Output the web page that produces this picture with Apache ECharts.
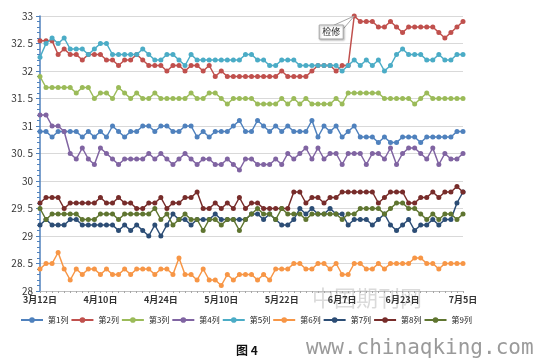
<!DOCTYPE html>
<html>
<head>
<meta charset="utf-8">
<script src="https://cdn.jsdelivr.net/npm/echarts@6/dist/echarts.min.js"></script>
<style>
  html, body { margin: 0; padding: 0; background: #ffffff; }
  #chart { width: 539px; height: 362px; }
</style>
</head>
<body>
<div id="chart"></div>
<script>
// ---- data ----
const tickLabels = ['3月12日', '4月10日', '4月24日', '5月10日', '5月22日', '6月7日', '6月23日', '7月5日'];
const seriesNames = ['第1列', '第2列', '第3列', '第4列', '第5列', '第6列', '第7列', '第8列', '第9列'];

const s1 = [30.9,30.9,30.8,30.9,30.9,30.9,30.9,30.8,30.9,30.8,30.9,30.8,31.0,30.9,30.8,30.9,30.9,31.0,31.0,30.9,31.0,31.0,30.9,30.9,31.0,31.0,30.8,30.9,30.8,30.9,30.9,30.9,31.0,31.1,30.9,30.9,31.1,31.0,30.9,31.0,30.9,31.0,30.9,30.9,30.9,31.1,30.8,31.0,30.9,31.0,30.8,30.9,31.0,30.8,30.8,30.8,30.7,30.8,30.7,30.7,30.8,30.8,30.8,30.7,30.8,30.8,30.8,30.8,30.8,30.9,30.9];
const s2 = [32.55,32.55,32.55,32.3,32.4,32.3,32.3,32.2,32.3,32.3,32.3,32.2,32.2,32.1,32.2,32.2,32.3,32.2,32.1,32.1,32.1,32.0,32.1,32.1,32.0,32.1,32.1,32.0,32.1,31.9,32.0,31.9,31.9,31.9,31.9,31.9,31.9,31.9,31.9,31.9,32.0,31.9,31.9,31.9,31.9,32.0,32.1,32.1,32.1,32.0,32.1,32.1,33.0,32.9,32.9,32.9,32.8,32.8,32.9,32.8,32.7,32.8,32.8,32.8,32.8,32.8,32.7,32.6,32.7,32.8,32.9];
const s3 = [31.9,31.7,31.7,31.7,31.7,31.7,31.6,31.7,31.7,31.5,31.6,31.6,31.5,31.7,31.6,31.5,31.6,31.5,31.5,31.6,31.5,31.5,31.5,31.5,31.5,31.6,31.5,31.5,31.6,31.6,31.5,31.4,31.5,31.5,31.5,31.5,31.4,31.4,31.4,31.4,31.5,31.4,31.5,31.4,31.5,31.4,31.4,31.4,31.4,31.5,31.4,31.6,31.6,31.6,31.6,31.6,31.6,31.5,31.5,31.5,31.5,31.5,31.4,31.5,31.6,31.5,31.5,31.5,31.5,31.5,31.5];
const s4 = [31.2,31.2,31.0,31.0,30.9,30.5,30.4,30.6,30.4,30.3,30.6,30.5,30.4,30.3,30.4,30.4,30.4,30.4,30.5,30.4,30.5,30.4,30.3,30.4,30.5,30.4,30.3,30.4,30.4,30.3,30.3,30.4,30.3,30.2,30.4,30.4,30.3,30.3,30.3,30.4,30.3,30.5,30.4,30.5,30.6,30.4,30.6,30.4,30.5,30.5,30.3,30.5,30.5,30.5,30.3,30.5,30.5,30.4,30.6,30.3,30.5,30.6,30.6,30.5,30.4,30.6,30.3,30.5,30.4,30.4,30.5];
const s5 = [32.25,32.5,32.6,32.5,32.6,32.4,32.4,32.4,32.3,32.4,32.5,32.5,32.3,32.3,32.3,32.3,32.3,32.4,32.3,32.2,32.2,32.3,32.3,32.2,32.1,32.3,32.2,32.2,32.2,32.2,32.2,32.2,32.2,32.2,32.3,32.3,32.2,32.2,32.1,32.1,32.2,32.2,32.2,32.1,32.1,32.1,32.1,32.1,32.1,32.1,32.0,32.1,32.2,32.1,32.2,32.1,32.2,32.0,32.1,32.3,32.4,32.3,32.3,32.3,32.2,32.2,32.3,32.2,32.2,32.3,32.3];
const s6 = [28.4,28.5,28.5,28.7,28.4,28.2,28.4,28.3,28.4,28.4,28.3,28.4,28.3,28.3,28.4,28.3,28.4,28.4,28.4,28.3,28.4,28.4,28.3,28.6,28.3,28.3,28.2,28.4,28.2,28.2,28.1,28.3,28.2,28.3,28.3,28.3,28.2,28.3,28.2,28.4,28.4,28.4,28.5,28.5,28.4,28.4,28.5,28.5,28.4,28.5,28.3,28.3,28.5,28.5,28.4,28.4,28.5,28.4,28.5,28.5,28.5,28.5,28.6,28.6,28.5,28.5,28.4,28.5,28.5,28.5,28.5];
const s7 = [29.2,29.3,29.2,29.2,29.2,29.3,29.3,29.2,29.2,29.2,29.2,29.2,29.2,29.1,29.2,29.1,29.2,29.1,29.0,29.2,29.0,29.2,29.4,29.3,29.3,29.2,29.3,29.3,29.3,29.4,29.3,29.3,29.3,29.3,29.3,29.4,29.4,29.3,29.4,29.3,29.2,29.2,29.3,29.5,29.4,29.5,29.4,29.4,29.5,29.4,29.4,29.2,29.3,29.3,29.3,29.2,29.3,29.4,29.2,29.1,29.2,29.3,29.1,29.2,29.2,29.3,29.2,29.3,29.3,29.6,29.8];
const s8 = [29.6,29.7,29.7,29.7,29.5,29.6,29.6,29.6,29.6,29.6,29.7,29.6,29.6,29.7,29.6,29.6,29.5,29.5,29.6,29.6,29.7,29.5,29.6,29.6,29.7,29.7,29.8,29.5,29.5,29.6,29.5,29.6,29.5,29.7,29.5,29.6,29.6,29.5,29.5,29.5,29.5,29.5,29.8,29.8,29.6,29.7,29.7,29.6,29.7,29.7,29.8,29.8,29.8,29.8,29.8,29.8,29.6,29.7,29.8,29.8,29.8,29.6,29.6,29.7,29.7,29.8,29.7,29.8,29.8,29.9,29.8];
const s9 = [29.5,29.3,29.4,29.4,29.4,29.4,29.4,29.3,29.3,29.3,29.4,29.4,29.4,29.3,29.4,29.4,29.4,29.4,29.4,29.5,29.3,29.4,29.2,29.3,29.4,29.3,29.3,29.1,29.3,29.3,29.2,29.3,29.3,29.1,29.3,29.4,29.5,29.4,29.4,29.3,29.5,29.4,29.4,29.4,29.3,29.4,29.4,29.4,29.4,29.4,29.3,29.4,29.4,29.5,29.5,29.5,29.5,29.4,29.5,29.6,29.6,29.5,29.5,29.4,29.3,29.4,29.3,29.4,29.4,29.3,29.4];

const seriesValues = [s1, s2, s3, s4, s5, s6, s7, s8, s9];
const colors = ['#4F81BD', '#C0504D', '#9BBB59', '#8064A2', '#4BACC6', '#F79646', '#2C4D75', '#772C2A', '#5F7530'];

// callout annotation
const calloutText = '检修';
const calloutSeries = 1;
const calloutIndex = 52;
const captionText = '图 4';

const categories = s1.map((_, i) => String(i + 1));
const labelStep = 10;

const chart = echarts.init(document.getElementById('chart'), null, { renderer: 'canvas' });

const staticGraphics = [
  {
    id: 'caption',
    type: 'text',
    left: 236,
    top: 344,
    style: { text: captionText, font: 'bold 12px "Noto Sans CJK SC"', fill: '#111' }
  },
  {
    id: 'wm1',
    type: 'text',
    left: 312,
    top: 287,
    silent: true,
    style: { text: '中国期刊网', font: '22px "Noto Sans CJK SC"', fill: 'rgba(150,150,150,0.35)' }
  },
  {
    id: 'wm2',
    type: 'text',
    left: 306,
    top: 338,
    silent: true,
    style: { text: 'www.chinaqking.com', font: '21px "DejaVu Sans Mono"', fill: 'rgba(120,120,120,0.75)' }
  }
];

const option = {
  animation: false,
  backgroundColor: '#ffffff',
  color: colors,
  grid: { left: 40, right: 76, top: 16, bottom: 71 },
  legend: {
    data: seriesNames,
    left: 20,
    top: 316,
    padding: 0,
    itemWidth: 22,
    itemHeight: 7,
    itemGap: 2,
    textStyle: { fontSize: 8, color: '#222', fontFamily: 'Noto Sans CJK SC' }
  },
  xAxis: {
    type: 'category',
    data: categories,
    boundaryGap: false,
    axisLine: { lineStyle: { color: '#BFBFBF', width: 1 } },
    axisTick: { show: true, interval: 0, length: 2, lineStyle: { color: '#A6A6A6' } },
    axisLabel: {
      interval: labelStep - 1,
      margin: 4,
      fontSize: 9,
      fontWeight: 'bold',
      color: '#333',
      fontFamily: 'Noto Sans CJK SC',
      formatter: (v, idx) => tickLabels[Math.round(idx / labelStep)] || ''
    },
    splitLine: { show: false }
  },
  yAxis: {
    type: 'value',
    min: 28,
    max: 33,
    interval: 0.5,
    axisLine: { show: true, lineStyle: { color: '#4F81BD', width: 1.5 } },
    axisTick: { show: true, length: 4, lineStyle: { color: '#4F81BD' } },
    minorTick: { show: true, splitNumber: 5, length: 3, lineStyle: { color: '#4F81BD' } },
    axisLabel: {
      margin: 7,
      fontSize: 10,
      color: '#333',
      fontFamily: 'Noto Sans CJK SC',
      formatter: v => (Math.round(v) === v ? String(v) : String(v).replace('.', '. '))
    },
    splitLine: { show: true, lineStyle: { color: '#D9D9D9', width: 1 } }
  },
  series: seriesNames.map((name, k) => ({
    name: name,
    type: 'line',
    data: seriesValues[k],
    symbol: 'circle',
    symbolSize: 5,
    showAllSymbol: true,
    lineStyle: { width: 1.5, color: colors[k] },
    itemStyle: { color: colors[k] },
    z: 2 + k
  })),
  graphic: staticGraphics
};

chart.setOption(option);

// callout positioned from the library's own scale
const p = chart.convertToPixel({ seriesIndex: calloutSeries }, [calloutIndex, seriesValues[calloutSeries][calloutIndex]]);
if (p) {
  const bx = p[0] - 35, by = p[1] + 9, bw = 24, bh = 14;
  chart.setOption({
    graphic: staticGraphics.concat([
      {
        id: 'callPtr',
        type: 'polygon',
        z: 100,
        shape: { points: [[bx + bw - 9, by], [p[0], p[1]], [bx + bw, by + 4]] },
        style: { fill: '#ffffff', stroke: '#A6A6A6', lineWidth: 1 }
      },
      {
        id: 'callBox',
        type: 'rect',
        z: 101,
        shape: { x: bx, y: by, width: bw, height: bh },
        style: { fill: '#ffffff', stroke: '#A6A6A6', lineWidth: 1, shadowBlur: 2, shadowColor: 'rgba(0,0,0,0.25)', shadowOffsetX: 1, shadowOffsetY: 1 }
      },
      {
        id: 'callText',
        type: 'text',
        z: 102,
        x: bx + bw / 2,
        y: by + bh / 2,
        style: { text: calloutText, font: '9px "Noto Sans CJK SC"', fill: '#222', align: 'center', verticalAlign: 'middle' }
      }
    ])
  });
}
</script>
</body>
</html>
